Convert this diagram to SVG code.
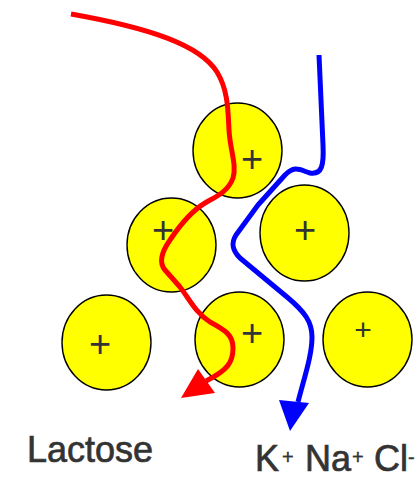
<svg xmlns="http://www.w3.org/2000/svg" width="419" height="479" viewBox="0 0 419 479">
<style>
.ball{fill:#ffff00;stroke:#000;stroke-width:1.4}
.plus{font-family:"Liberation Sans",Arial,sans-serif;fill:#333;text-anchor:middle;dominant-baseline:central;font-size:38px}
.lbl{font-family:"Liberation Sans",Arial,sans-serif;fill:#333;stroke:#333;stroke-width:0.7;font-size:36px}
.sup{font-family:"Liberation Sans",Arial,sans-serif;fill:#333;stroke:#333;stroke-width:0.4;font-size:20px}
</style>
<rect width="419" height="479" fill="#fff"/>
<g id="ball-top"><ellipse class="ball" cx="237.5" cy="150.5" rx="44.5" ry="47.5"/><text class="plus" x="252" y="159">+</text></g>
<g id="ball-midleft"><ellipse class="ball" cx="171.5" cy="245" rx="44.5" ry="47"/><text class="plus" x="163" y="230">+</text></g>
<g id="ball-midright"><ellipse class="ball" cx="304.5" cy="233" rx="44.5" ry="48"/><text class="plus" x="305" y="230">+</text></g>
<g id="ball-botleft"><ellipse class="ball" cx="106.5" cy="342.5" rx="44.5" ry="47.5"/><text class="plus" x="100" y="344">+</text></g>
<g id="ball-botmid"><ellipse class="ball" cx="239.5" cy="339.5" rx="44.5" ry="47.5"/><text class="plus" x="252" y="333">+</text></g>
<g id="ball-botright"><ellipse class="ball" cx="367.5" cy="339.5" rx="44.5" ry="47.5"/><text class="plus" x="363" y="329" style="font-size:30px">+</text></g>
<g id="connectors">
<path d="M71,14 C150,28 200,45 217,72 C228,90 228,110 229,130 C230,150 237,165 233,178 C228,192 215,197 205,203 C190,212 178,228 170,240 C163,250 158,262 165,270 L180,287 C190,300 195,312 210,322 C225,330 233,335 233,348 C233,362 228,370 206,381" fill="none" stroke="#ff0000" stroke-width="5" stroke-linejoin="round"/>
<polygon points="181,398 198,369 215,393" fill="#ff0000"/>
<path d="M319,55 L323,145 C324,165 322,175 310,173 C300,170 295,165 285,175 L258,205 L236,235 C231,243 232,250 240,258 L287,297 C305,312 312,322 312,337 C312,355 305,375 298,402" fill="none" stroke="#0000ff" stroke-width="5" stroke-linejoin="round"/>
<polygon points="290,431 279,400 309,403" fill="#0000ff"/>
</g>
<g id="labels">
<text class="lbl" x="27" y="462">Lactose</text>
<text class="lbl" x="255" y="471">K</text>
<text class="sup" x="282" y="464">+</text>
<text class="lbl" x="305" y="471">Na</text>
<text class="sup" x="352" y="464">+</text>
<text class="lbl" x="374" y="471">Cl</text>
<text class="sup" x="408" y="464">-</text>
</g>
</svg>
